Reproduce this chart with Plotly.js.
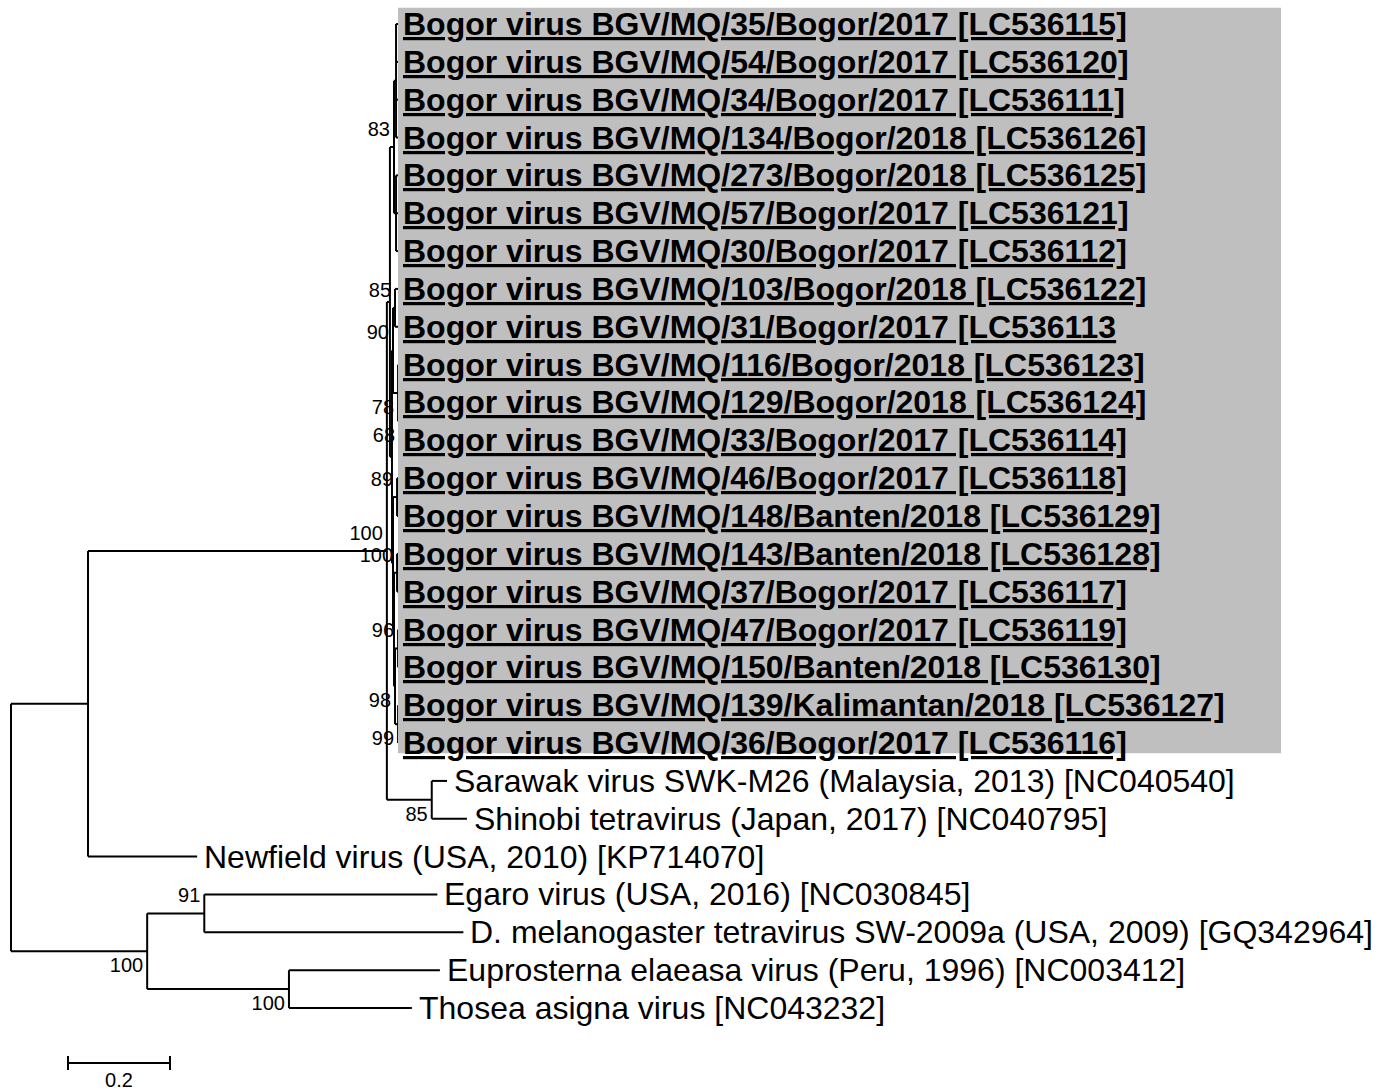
<!DOCTYPE html>
<html>
<head>
<meta charset="utf-8">
<script src="https://cdn.plot.ly/plotly-3.0.1.min.js"></script>
<style>html,body{margin:0;padding:0;background:#fff;}#chart{width:1389px;height:1092px;}</style>
</head>
<body>
<div id="chart"></div>
<script>
// ---- tree data (branch lengths in substitutions/site) ----
const nodeName = [
  '', '', '', '', '', '',
  'Bogor virus BGV/MQ/35/Bogor/2017 [LC536115]',
  'Bogor virus BGV/MQ/54/Bogor/2017 [LC536120]',
  'Bogor virus BGV/MQ/34/Bogor/2017 [LC536111]',
  'Bogor virus BGV/MQ/134/Bogor/2018 [LC536126]',
  '',
  'Bogor virus BGV/MQ/273/Bogor/2018 [LC536125]',
  'Bogor virus BGV/MQ/57/Bogor/2017 [LC536121]',
  'Bogor virus BGV/MQ/30/Bogor/2017 [LC536112]',
  '', '', '',
  'Bogor virus BGV/MQ/103/Bogor/2018 [LC536122]',
  'Bogor virus BGV/MQ/31/Bogor/2017 [LC536113',
  '',
  'Bogor virus BGV/MQ/116/Bogor/2018 [LC536123]',
  '',
  'Bogor virus BGV/MQ/129/Bogor/2018 [LC536124]',
  'Bogor virus BGV/MQ/33/Bogor/2017 [LC536114]',
  '', '',
  'Bogor virus BGV/MQ/46/Bogor/2017 [LC536118]',
  'Bogor virus BGV/MQ/148/Banten/2018 [LC536129]',
  '', '',
  'Bogor virus BGV/MQ/143/Banten/2018 [LC536128]',
  'Bogor virus BGV/MQ/37/Bogor/2017 [LC536117]',
  '', '',
  'Bogor virus BGV/MQ/47/Bogor/2017 [LC536119]',
  'Bogor virus BGV/MQ/150/Banten/2018 [LC536130]',
  '',
  'Bogor virus BGV/MQ/139/Kalimantan/2018 [LC536127]',
  'Bogor virus BGV/MQ/36/Bogor/2017 [LC536116]',
  '',
  'Sarawak virus SWK-M26 (Malaysia, 2013) [NC040540]',
  'Shinobi tetravirus (Japan, 2017) [NC040795]',
  'Newfield virus (USA, 2010) [KP714070]',
  '', '',
  'Egaro virus (USA, 2016) [NC030845]',
  'D. melanogaster tetravirus SW-2009a (USA, 2009) [GQ342964]',
  '',
  'Euprosterna elaeasa virus (Peru, 1996) [NC003412]',
  'Thosea asigna virus [NC043232]'
];
const nodeParent = [
  -1, 0, 1, 2, 3, 4, 5, 5, 5, 5,
  4, 10, 10, 10, 3, 14, 15, 16, 16, 15,
  19, 19, 21, 21, 14, 24, 25, 25, 24, 28,
  29, 29, 28, 32, 33, 33, 32, 36, 36, 2,
  39, 39, 1, 0, 43, 44, 44, 43, 47, 47
];
const branchLength = [
  0, 0.151, 0.586, 0.006, 0.008, 0.004, 0.008, 0.008, 0.008, 0.008,
  0.004, 0.008, 0.008, 0.008, 0.004, 0.002, 0.004, 0.010, 0.010, 0.010,
  0.004, 0.002, 0.002, 0.002, 0.002, 0.008, 0.006, 0.006, 0.002, 0.006,
  0.006, 0.006, 0.002, 0.006, 0.004, 0.004, 0.006, 0.004, 0.004, 0.088,
  0.030, 0.069, 0.214, 0.267, 0.112, 0.457, 0.508, 0.278, 0.296, 0.241
];
const support = [
  '', '', '100', '', '83', '', '', '', '', '',
  '', '', '', '', '', '90', '85', '', '', '78',
  '', '68', '', '', '', '89', '', '', '', '100',
  '', '', '98', '96', '', '', '99', '', '', '85',
  '', '', '', '100', '91', '', '', '100', '', ''
];
const highlightedLeaves = 20;   // first 20 leaves (Bogor virus) are boxed, bold, underlined
const scaleBarLength = 0.2;
const scaleBarLabel = '0.2';

// ---- layout geometry ----
const W = 1389, H = 1092;
const pxPerUnit = 510, rootPx = 11;
const rowPx = 37.846, firstRowPx = 24;
const xRange = [-rootPx / pxPerUnit, (W - rootPx) / pxPerUnit];
const yTop = -firstRowPx / rowPx;
const yRange = [yTop + H / rowPx, yTop];

// ---- compute tree coordinates ----
const n = nodeName.length;
const children = Array.from({length: n}, () => []);
nodeParent.forEach((p, i) => { if (p >= 0) children[p].push(i); });
const X = new Array(n), Y = new Array(n);
let leafCounter = 0;
const leaves = [];
function walk(i, depth) {
  X[i] = depth;
  if (children[i].length === 0) {
    Y[i] = leafCounter++;
    leaves.push(i);
  } else {
    children[i].forEach(c => walk(c, depth + branchLength[c]));
    const ch = children[i];
    Y[i] = (Y[ch[0]] + Y[ch[ch.length - 1]]) / 2;
  }
}
walk(0, 0);

const lx = [], ly = [];
for (let i = 0; i < n; i++) {
  const p = nodeParent[i];
  if (p >= 0) { lx.push(X[p], X[i], null); ly.push(Y[i], Y[i], null); }
  const ch = children[i];
  if (ch.length) { lx.push(X[i], X[i], null); ly.push(Y[ch[0]], Y[ch[ch.length - 1]], null); }
}

// support labels: left of node, above the branch for upper children, below for lower ones
const labDy = 16 / rowPx, labDx = 4 / pxPerUnit;
const sx = [], sy = [], st = [];
for (let i = 0; i < n; i++) {
  if (!support[i]) continue;
  const p = nodeParent[i];
  const isUpper = children[p][0] === i;
  sx.push(X[i] - labDx); sy.push(Y[i] + (isUpper ? -labDy : labDy)); st.push(support[i]);
}

const FONT = 'Liberation Sans, Arial, Helvetica, sans-serif';

// scale bar
const sbX0 = 57 / pxPerUnit;
const sbY = (1063 - firstRowPx) / rowPx;
const tk = 7 / rowPx;
const sbx = [sbX0, sbX0, null, sbX0, sbX0 + scaleBarLength, null, sbX0 + scaleBarLength, sbX0 + scaleBarLength];
const sby = [sbY - tk, sbY + tk, null, sbY, sbY, null, sbY - tk, sbY + tk];

const traces = [
  {x: lx, y: ly, mode: 'lines', line: {color: '#000', width: 2}, hoverinfo: 'skip', cliponaxis: false},
  {x: sx, y: sy, text: st, mode: 'text', textposition: 'middle left',
   textfont: {family: FONT, size: 20, color: '#000'}, hoverinfo: 'skip', cliponaxis: false},
  {x: sbx, y: sby, mode: 'lines', line: {color: '#000', width: 2}, hoverinfo: 'skip', cliponaxis: false},
  {x: [sbX0 + scaleBarLength / 2], y: [sbY + 0.5], text: [scaleBarLabel], mode: 'text',
   textposition: 'middle center', textfont: {family: FONT, size: 20, color: '#000'}, hoverinfo: 'skip', cliponaxis: false}
];

const annotations = leaves.map((li, k) => {
  const hl = k < highlightedLeaves;
  return {
    x: X[li], y: Y[li], xref: 'x', yref: 'y', text: nodeName[li],
    showarrow: false, xanchor: 'left', yanchor: 'middle', xshift: hl ? 1 : 5,
    font: hl ? {family: FONT, size: 32, color: '#000', weight: 'bold', lineposition: 'under'}
             : {family: FONT, size: 32, color: '#000'}
  };
});

const boxX0 = (398 - rootPx) / pxPerUnit, boxX1 = (1281 - rootPx) / pxPerUnit;
const shapes = [{
  type: 'rect', xref: 'x', yref: 'y', layer: 'above',
  x0: boxX0, x1: boxX1, y0: -0.43, y1: highlightedLeaves - 1 + 0.27,
  fillcolor: '#bfbfbf', line: {width: 0}
}];

const layout = {
  width: W, height: H, margin: {l: 0, r: 0, t: 0, b: 0},
  paper_bgcolor: '#fff', plot_bgcolor: '#fff', showlegend: false,
  xaxis: {range: xRange, visible: false, fixedrange: true},
  yaxis: {range: yRange, visible: false, fixedrange: true},
  annotations: annotations, shapes: shapes
};
Plotly.newPlot('chart', traces, layout, {displayModeBar: false, staticPlot: true});
</script>
</body>
</html>
